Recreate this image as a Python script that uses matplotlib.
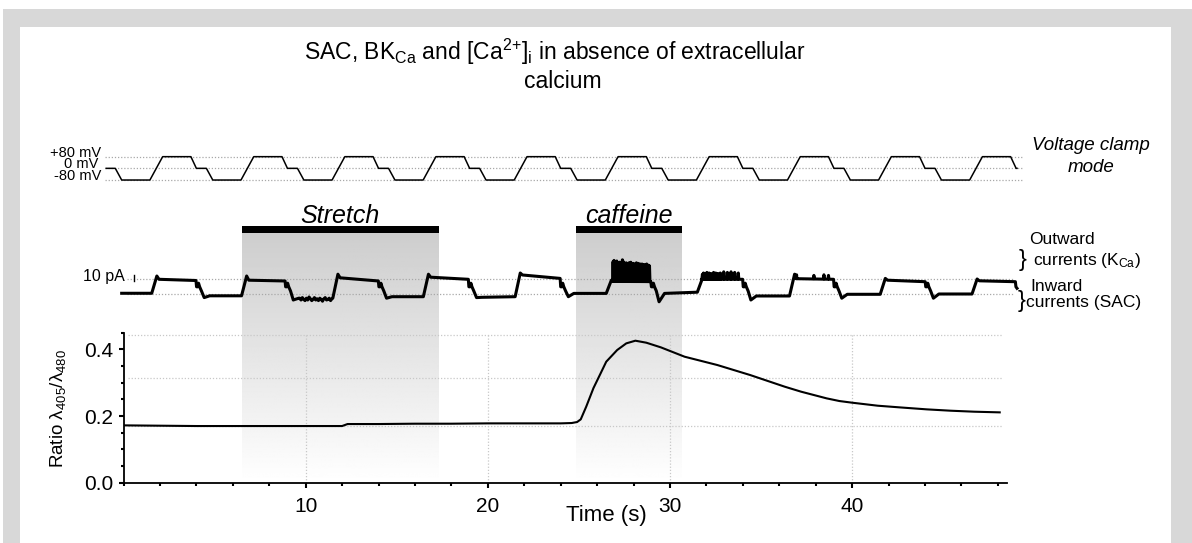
import numpy as np
import matplotlib.pyplot as plt
from matplotlib.patches import Rectangle
from matplotlib.ticker import FixedLocator, MultipleLocator, FormatStrFormatter

plt.rcParams['font.family'] = ['Liberation Sans', 'DejaVu Sans']
plt.rcParams['mathtext.fontset'] = 'custom'
plt.rcParams['mathtext.rm'] = 'Liberation Sans'
plt.rcParams['mathtext.it'] = 'Liberation Sans:italic'
plt.rcParams['mathtext.bf'] = 'Liberation Sans:bold'

W, H = 1192, 543

# --- [Ca2+]i ratio trace (405/480) ---
ratio_t = [0, 2, 4, 6, 8, 10, 12, 12.3, 14, 16, 18, 20, 22, 24, 24.6, 24.9, 25.1, 25.4, 25.8,
           26.2, 26.5, 27.1, 27.6, 28.1, 28.7, 29.5, 30.8, 32.6, 34.4, 36.3, 37.2, 38.6,
           39.3, 40, 41.4, 42.6, 44.1, 45.4, 46.7, 48.1]
ratio_v = [0.172, 0.171, 0.170, 0.170, 0.170, 0.170, 0.170, 0.176, 0.176, 0.177, 0.177, 0.178,
           0.178, 0.178, 0.179, 0.182, 0.190, 0.228, 0.284,
           0.329, 0.363, 0.398, 0.418, 0.426, 0.420, 0.406, 0.378, 0.353, 0.323, 0.288, 0.273, 0.253,
           0.245, 0.240, 0.231, 0.226, 0.220, 0.216, 0.213, 0.211]
ratio_grid = [0.17, 0.313, 0.443]

# --- voltage clamp protocol (one cycle, s from cycle start / mV) ---
cycle_t = [0.0, 0.7, 2.25, 2.55, 3.1, 3.45]
cycle_mv = [-80, 80, 80, 0, 0, -80]
cycle_starts = [-3.55, 1.45, 6.45, 11.45, 16.45, 21.45, 26.45, 31.45, 36.45, 41.45, 46.45]
v_range = (-0.95, 49.05)
v_levels = [80, 0, -80]

# --- membrane current (pA), one entry per depolarising step ---
step_on = [1.55, 6.48, 11.49, 16.46, 21.5, 26.5, 31.5, 36.56, 41.54, 46.58]
step_off = [3.98, 8.87, 13.99, 18.93, 23.97, 28.95, 33.99, 38.98, 44.01, 48.96]
peak_pa = [30, 30, 33, 33, 35, 23, 26, 33, 26, 25]
high_start = [24.5, 23, 27, 28, 31.7, 21, 24.5, 25.5, 23, 22]
high_end = [22.5, 21.7, 21.7, 24.5, 26, 20.5, 24.5, 24.5, 20.5, 20.5]
low_start = [-6, -10, -7, -6, -4.5, -13, -10, -7, -7]
low_flat = [-3, -7, -4.5, -5.5, 1, 1, -3.3, -0.5, 0]
low_end = [-3, -7, -4.5, -4.5, 1, 3, -3.3, -0.5, 0]
first_low = 1.2
last_level = 9.5
stretch_noise = [0, -3, 1, -2, -4, 0, -3, 2, -1, -4, -2, 1, -3, -1, -4, 0, -2, -5, -1, 1,
                 -3, -2, 0, -4, -1]
caff_spikes = [54, 56, 47, 50, 55, 45, 49, 53, 44, 51, 57, 54, 46, 50, 52, 45, 49, 52, 47, 53,
               44, 50, 51, 46, 48, 52, 45, 51, 49, 50, 46, 50, 47, 49, 45, 49, 50, 46, 48, 47]
after_spikes = [33, 35, 32, 34, 36, 33, 35, 32, 34, 33, 36, 31, 35, 33, 34, 32, 35, 33]
after_sparse_t = [32.95, 33.15, 33.35, 33.55, 33.75]
after_sparse_pa = [37, 36, 37, 36, 35]
late_sparse_t = [36.95, 37.9, 38.45, 38.7]
late_sparse_pa = [32, 31, 32, 31]
pa_levels = [25, 0]

stretch = (6.5, 17.3)
caffeine = (24.85, 30.65)

fig = plt.figure(figsize=(W / 100, H / 100), dpi=100)
fig.patch.set_facecolor('white')
fig.patches.append(Rectangle((3 / W, 0), 1, (H - 9) / H, transform=fig.transFigure,
                             facecolor='#d8d8d8', edgecolor='none', zorder=-10))
fig.patches.append(Rectangle((20 / W, 0), (1171 - 20) / W, (H - 27) / H, transform=fig.transFigure,
                             facecolor='white', edgecolor='none', zorder=-9))


def px_axes(left, top, right, bottom):
    ax = fig.add_axes([left / W, 1 - bottom / H, (right - left) / W, (bottom - top) / H])
    ax.set_facecolor('none')
    ax.set_xlim(0, 48.5)
    return ax


def ftext(x, y, s, **kw):
    return fig.text(x / W, 1 - y / H, s, **kw)


L, R = 123.5, 1007

# shaded periods with gradient
bg = px_axes(L, 226, R, 482.7)
bg.set_ylim(0, 1)
bg.axis('off')
grad = np.linspace(0.80, 1.0, 256).reshape(-1, 1)
for (a, b), name in [(stretch, 'Stretch'), (caffeine, 'caffeine')]:
    bg.imshow(grad, cmap='gray', vmin=0, vmax=1, extent=[a, b, 0, 1], aspect='auto',
              origin='upper', zorder=0)
    bg.fill_between([a, b], 0.973, 1.0, color='black', lw=0, zorder=2)
    bg.text((a + b) / 2, 1.013, name, ha='center', va='baseline', fontsize=18,
            style='italic', clip_on=False)
bg.set_xlim(0, 48.5)

# voltage trace
axv = px_axes(L, 145, R, 191.7)
axv.set_ylim(-160, 160)
axv.axis('off')
vt, vv = [], []
for s in cycle_starts:
    vt += [s + c for c in cycle_t]
    vv += cycle_mv
vt, vv = np.array(vt), np.array(vv, dtype=float)
keep = (vt > v_range[0]) & (vt < v_range[1])
vtp = np.r_[v_range[0], vt[keep], v_range[1]]
vvp = np.r_[np.interp(v_range[0], vt, vv), vv[keep], np.interp(v_range[1], vt, vv)]
axv.hlines(v_levels, -1.0, 49.3, colors='#a8a8a8', lw=0.9, linestyles=(0, (1, 1.5)),
           clip_on=False)
axv.plot(vtp, vvp, color='black', lw=1.1, clip_on=False, zorder=3)

# current trace
axc = px_axes(L, 252, R, 312)
axc.set_ylim(-30, 70)
axc.axis('off')
ct, ci = [-0.1], [first_low]
prev = first_low
dense = {5: (26.85, 28.9, caff_spikes), 6: (31.75, 32.85, after_spikes)}
sparse = {6: (after_sparse_t, after_sparse_pa), 7: (late_sparse_t, late_sparse_pa)}
for k in range(len(step_on)):
    on, off = step_on[k], step_off[k]
    ct += [on, on + 0.28]
    ci += [prev, peak_pa[k]]
    p0 = on + 0.4
    pts = [(p0, high_start[k]), (off, high_end[k])]

    def base(t):
        return np.interp(t, [p0, off], [high_start[k], high_end[k]])
    if k in dense:
        t0, t1, hs = dense[k]
        ts = np.linspace(t0, t1, 2 * len(hs) + 1)
        for j, t in enumerate(ts):
            pts.append((t, hs[j // 2] if j % 2 else base(t)))
    if k in sparse:
        for t, h in zip(*sparse[k]):
            pts += [(t - 0.03, base(t)), (t, h), (t + 0.03, base(t))]
    pts.sort()
    ct += [p[0] for p in pts]
    ci += [p[1] for p in pts]
    if k < len(low_start):
        ct += [off + 0.03, off + 0.1, off + 0.14, off + 0.2, off + 0.3, off + 0.45, off + 0.75]
        ci += [12, 12, 18, 12, 5, low_start[k], low_flat[k]]
        if k == 1:
            nt = np.linspace(off + 0.8, step_on[k + 1] - 0.05, len(stretch_noise))
            nb = np.linspace(low_flat[k], low_end[k], len(stretch_noise))
            ct += list(nt)
            ci += list(nb + np.array(stretch_noise))
        prev = low_end[k]
    else:
        ct += [off + 0.03, v_range[1]]
        ci += [12, last_level]
axc.hlines(pa_levels, 0.2, 48.85, colors='#a8a8a8', lw=0.9, linestyles=(0, (1, 1.5)),
           clip_on=False)
axc.plot(ct, ci, color='black', lw=2.2, clip_on=False, zorder=3)
axc.plot([0.58, 0.58], [22, 32], color='black', lw=1.0, clip_on=False)
axc.text(0.08, 28.5, '10 pA', ha='right', va='center', fontsize=11.5, clip_on=False)

# ratio axes
ax = px_axes(L, 332.7, R, 482.7)
ax.set_ylim(0, 0.45)
for s in ['top', 'right']:
    ax.spines[s].set_visible(False)
for s in ['left', 'bottom']:
    ax.spines[s].set_linewidth(1.3)
ax.xaxis.set_major_locator(FixedLocator([10, 20, 30, 40]))
ax.xaxis.set_minor_locator(MultipleLocator(2))
ax.yaxis.set_major_locator(FixedLocator([0, 0.2, 0.4]))
ax.yaxis.set_minor_locator(MultipleLocator(0.05))
ax.yaxis.set_major_formatter(FormatStrFormatter('%.1f'))
ax.tick_params(which='major', direction='out', length=3.5, width=1.5, labelsize=15)
ax.tick_params(which='minor', direction='out', length=2, width=1.5)
ax.tick_params(axis='x', which='major', pad=6.5)
ax.tick_params(axis='y', which='major', pad=4)
ax.vlines([10, 20, 30, 40], 0, 0.45, colors='#c8c8c8', lw=0.9, linestyles=(0, (1, 1.5)))
ax.hlines(ratio_grid, 0.25, 48.3, colors='#c8c8c8', lw=0.9, linestyles=(0, (1, 1.5)))
ax.plot(ratio_t, ratio_v, color='black', lw=1.5, zorder=3)

ftext(58, 408, 'Ratio λ$_{405}$/λ$_{480}$', rotation=90, ha='center', va='center', fontsize=13.5)
ftext(606.7, 515, 'Time (s)', ha='center', va='center', fontsize=16)

# voltage labels
ftext(101.5, 156.7, '+80 mV', ha='right', va='baseline', fontsize=10.5)
ftext(98.5, 168.3, '0 mV', ha='right', va='baseline', fontsize=10.5)
ftext(101.5, 180, '-80 mV', ha='right', va='baseline', fontsize=10.5)
ftext(1091, 150, 'Voltage clamp', ha='center', va='baseline', fontsize=13.5, style='italic')
ftext(1091, 171.7, 'mode', ha='center', va='baseline', fontsize=13.5, style='italic')

# current labels
ftext(1029, 244, 'Outward', ha='left', va='baseline', fontsize=12.5)
ftext(1019, 260, '}', ha='left', va='center', fontsize=17)
ftext(1033, 265, 'currents (K$_\\mathrm{Ca}$)', ha='left', va='baseline', fontsize=12.5)
ftext(1030, 291, 'Inward', ha='left', va='baseline', fontsize=12.5)
ftext(1018, 301, '}', ha='left', va='center', fontsize=17)
ftext(1025.7, 307, 'currents (SAC)', ha='left', va='baseline', fontsize=12.5)

# title
ftext(555, 60, 'SAC, BK$_\\mathrm{Ca}$ and [Ca$^{2{+}}$]$_\\mathrm{i}$ in absence of extracellular',
      ha='center', va='baseline', fontsize=16.5)
ftext(563, 88, 'calcium', ha='center', va='baseline', fontsize=16.5)

fig.savefig('out.png', dpi=100)
